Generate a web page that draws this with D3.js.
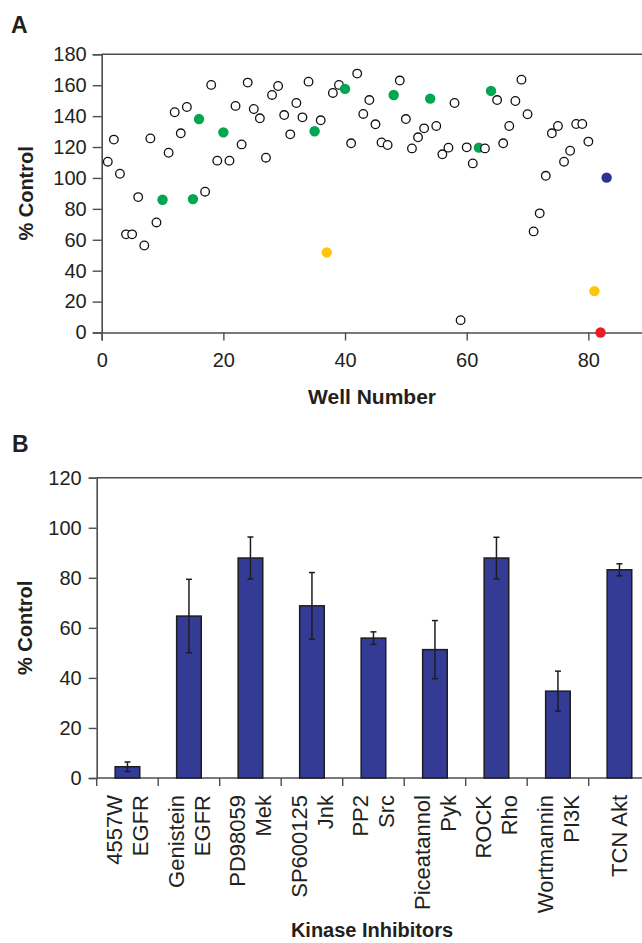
<!doctype html>
<html>
<head>
  <title> Kinase inhibitor screen </title>
  <meta charset="UTF-8">
  <script src="https://d3js.org/d3.v7.min.js"></script>
  <style>
    body { margin: 0; background-color: white; }
    text { font-family: "Liberation Sans", Arial, sans-serif; fill: #231f20; }
  </style>
</head>
<body>
  <div id="svg_area"></div>
</body>
</html>
<script>

// ---- Panel A data: % control for each well ----
var wells = [1,2,3,4,5,6,7,8,9,10,11,12,13,14,15,16,17,18,19,20,
  21,22,23,24,25,26,27,28,29,30,31,32,33,34,35,36,37,38,39,40,
  41,42,43,44,45,46,47,48,49,50,51,52,53,54,55,56,57,58,59,60,
  61,62,63,64,65,66,67,68,69,70,71,72,73,74,75,76,77,78,79,80,
  81,82,83];
var controlValues = [110.5,124.8,102.7,63.5,63.5,87.6,56.3,125.6,71.2,85.9,
  116.3,142.5,128.9,145.9,86.3,138.1,91.1,160.2,111.2,129.5,
  111.2,146.6,121.7,161.7,144.6,138.6,113.1,153.7,159.5,140.7,
  128.2,148.5,139.2,162.3,130.2,137.3,51.8,155,160.2,157.6,
  122.4,167.5,141.4,150.4,134.7,123,121.3,153.7,163,138.1,
  119.1,126.3,132.1,151.3,133.6,115.3,119.6,148.5,8,119.8,
  109.4,119.6,119.1,156.3,150.4,122.4,133.6,149.8,163.6,141.2,
  65.4,77.1,101.4,128.9,133.6,110.5,117.6,134.9,134.9,123.5,
  26.8,0,100.2];
// wells that are marked with a filled dot
var greenWells = [10,15,16,20,35,40,48,54,62,64];
var yellowWells = [37,81];
var redWells = [82];
var blueWells = [83];
var yTicksA = [0,20,40,60,80,100,120,140,160,180];
var xTicksA = [0,20,40,60,80];

// ---- Panel B data: kinase inhibitors ----
var barLabels = [["4557W","EGFR"],["Genistein","EGFR"],["PD98059","Mek"],["SP600125","Jnk"],
  ["PP2","Src"],["Piceatannol","Pyk"],["ROCK","Rho"],["Wortmannin","PI3K"],["TCN Akt"]];
var barMeans = [4.5,64.7,87.9,68.8,55.9,51.3,87.9,34.7,83.2];
var barErrors = [1.9,14.7,8.4,13.3,2.5,11.6,8.3,8.0,2.4];
var yTicksB = [0,20,40,60,80,100,120];

var axisColour = "#4d4d4d";

var svg = d3.select("#svg_area").append("svg")
    .attr("width", 642)
    .attr("height", 943);

// ================= Panel A =================
var xA = d3.scaleLinear().domain([0,90]).range([101.7, 649.2]);
var yA = d3.scaleLinear().domain([0,180]).range([332.5, 54.3]);

svg.append("text").attr("x", 11).attr("y", 33)
    .attr("font-size", "23px").attr("font-weight", "bold").text("A");

// frame line along the top
svg.append("line").attr("x1", xA(0)).attr("x2", 642).attr("y1", yA(180)).attr("y2", yA(180))
    .attr("stroke", axisColour).attr("stroke-width", 1.6);

var yAxisA = d3.axisLeft(yA).tickValues(yTicksA).tickSize(9).tickPadding(6);
var gyA = svg.append("g").attr("transform", "translate(" + xA(0) + ",0)").call(yAxisA);

var xAxisA = d3.axisBottom(xA).tickValues(xTicksA).tickSize(8).tickPadding(12);
var gxA = svg.append("g").attr("transform", "translate(0," + yA(0) + ")").call(xAxisA);

[gyA, gxA].forEach(function(g){
  g.select(".domain").attr("stroke", axisColour).attr("stroke-width", 1.6);
  g.selectAll(".tick line").attr("stroke", axisColour).attr("stroke-width", 1.4);
  g.selectAll(".tick text").attr("font-size", "20px").attr("fill", "#231f20")
    .attr("font-family", "Liberation Sans, Arial, sans-serif");
});

svg.append("text").attr("x", 372).attr("y", 404).attr("text-anchor", "middle")
    .attr("font-size", "21px").attr("font-weight", "bold").text("Well Number");
svg.append("text").attr("transform", "translate(33," + (yA(90)) + ") rotate(-90)")
    .attr("text-anchor", "middle").attr("font-size", "20px").attr("font-weight", "bold")
    .text("% Control");

// points
function pointColour(w){
  if (greenWells.indexOf(w) >= 0) return "#00a650";
  if (yellowWells.indexOf(w) >= 0) return "#ffc40c";
  if (redWells.indexOf(w) >= 0) return "#ed1c24";
  if (blueWells.indexOf(w) >= 0) return "#2e3192";
  return null;
}

svg.selectAll("circle.well")
    .data(wells)
    .enter()
    .append("circle")
    .attr("class", "well")
    .attr("cx", function(d){ return xA(d); })
    .attr("cy", function(d,i){ return yA(controlValues[i]); })
    .attr("r", function(d){ return pointColour(d) ? 5.2 : 4.3; })
    .attr("fill", function(d){ return pointColour(d) || "white"; })
    .attr("stroke", function(d){ return pointColour(d) ? "none" : "#111"; })
    .attr("stroke-width", 1.3);

// ================= Panel B =================
var xB = d3.scaleBand().domain(d3.range(barLabels.length)).range([96.7, 650.2]);
var yB = d3.scaleLinear().domain([0,120]).range([778, 477.7]);
var barW = xB.bandwidth() * 0.4;

svg.append("text").attr("x", 12).attr("y", 452)
    .attr("font-size", "23px").attr("font-weight", "bold").text("B");

svg.append("line").attr("x1", xB.range()[0]).attr("x2", 642).attr("y1", yB(120)).attr("y2", yB(120))
    .attr("stroke", axisColour).attr("stroke-width", 1.6);

var yAxisB = d3.axisLeft(yB).tickValues(yTicksB).tickSize(8).tickPadding(7);
var gyB = svg.append("g").attr("transform", "translate(" + xB.range()[0] + ",0)").call(yAxisB);
gyB.select(".domain").attr("stroke", axisColour).attr("stroke-width", 1.6);
gyB.selectAll(".tick line").attr("stroke", axisColour).attr("stroke-width", 1.4);
gyB.selectAll(".tick text").attr("font-size", "20px").attr("fill", "#231f20")
    .attr("font-family", "Liberation Sans, Arial, sans-serif");

// bottom axis with ticks between categories
svg.append("line").attr("x1", xB.range()[0]).attr("x2", 642).attr("y1", yB(0)).attr("y2", yB(0))
    .attr("stroke", axisColour).attr("stroke-width", 1.6);
svg.selectAll("line.catTick")
    .data(barLabels)
    .enter()
    .append("line")
    .attr("class", "catTick")
    .attr("x1", function(d,i){ return xB(i); })
    .attr("x2", function(d,i){ return xB(i); })
    .attr("y1", yB(0)).attr("y2", yB(0) + 8)
    .attr("stroke", axisColour).attr("stroke-width", 1.4);

// bars
svg.selectAll("rect.bar")
    .data(barMeans)
    .enter()
    .append("rect")
    .attr("class", "bar")
    .attr("x", function(d,i){ return xB(i) + xB.bandwidth()/2 - barW/2; })
    .attr("y", function(d){ return yB(d); })
    .attr("width", barW)
    .attr("height", function(d){ return yB(0) - yB(d); })
    .attr("fill", "#343b95")
    .attr("stroke", "#1d1d1f")
    .attr("stroke-width", 1.5);

// error bars
var errG = svg.selectAll("g.err")
    .data(barMeans)
    .enter()
    .append("g")
    .attr("class", "err")
    .attr("transform", function(d,i){ return "translate(" + (xB(i) + xB.bandwidth()/2) + ",0)"; });
errG.append("line")
    .attr("y1", function(d,i){ return yB(d + barErrors[i]); })
    .attr("y2", function(d,i){ return yB(d - barErrors[i]); })
    .attr("stroke", "#1d1d1f").attr("stroke-width", 1.5);
errG.append("line").attr("x1", -3).attr("x2", 3)
    .attr("y1", function(d,i){ return yB(d + barErrors[i]); })
    .attr("y2", function(d,i){ return yB(d + barErrors[i]); })
    .attr("stroke", "#1d1d1f").attr("stroke-width", 1.5);
errG.append("line").attr("x1", -3).attr("x2", 3)
    .attr("y1", function(d,i){ return yB(d - barErrors[i]); })
    .attr("y2", function(d,i){ return yB(d - barErrors[i]); })
    .attr("stroke", "#1d1d1f").attr("stroke-width", 1.5);

// rotated category labels
barLabels.forEach(function(lines, i){
  var cx = xB(i) + xB.bandwidth()/2;
  var offsets = lines.length == 2 ? [-5, 21] : [8];
  lines.forEach(function(s, j){
    svg.append("text")
      .attr("transform", "translate(" + (cx + offsets[j]) + ",795) rotate(-90)")
      .attr("text-anchor", "end")
      .attr("font-size", "22px")
      .text(s);
  });
});

svg.append("text").attr("x", 372).attr("y", 937).attr("text-anchor", "middle")
    .attr("font-size", "20px").attr("font-weight", "bold").text("Kinase Inhibitors");
svg.append("text").attr("transform", "translate(32," + yB(60) + ") rotate(-90)")
    .attr("text-anchor", "middle").attr("font-size", "20px").attr("font-weight", "bold")
    .text("% Control");

</script>
